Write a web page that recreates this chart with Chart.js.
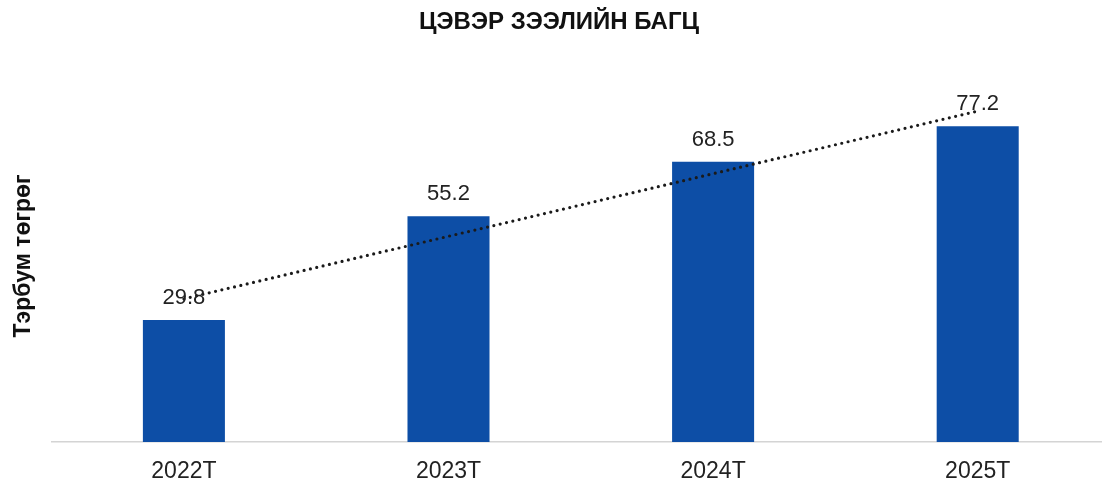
<!DOCTYPE html>
<html>
<head>
<meta charset="utf-8">
<script src="https://cdn.jsdelivr.net/npm/chart.js@4/dist/chart.umd.min.js"></script>
<style>
    html, body { margin: 0; padding: 0; background: #fff; overflow: hidden; }
    #wrap { width: 1110px; height: 481px; position: relative; }
</style>
</head>
<body>
<div id="wrap"><canvas id="loanChart"></canvas></div>
<script>
// data
const years = ["2022T", "2023T", "2024T", "2025T"];
const loanValues = [29.8, 55.2, 68.5, 77.2];
const trendValues = [35.0, null, null, 80.9]; // dotted trend line, only its ends

const FONT = "'Liberation Sans', Arial, sans-serif";

// value labels above bars
const valueLabels = {
    id: "valueLabels",
    afterDatasetsDraw(chart) {
        const ctx = chart.ctx;
        const meta = chart.getDatasetMeta(1); // the bar dataset
        ctx.save();
        ctx.font = "22px " + FONT;
        ctx.fillStyle = "#222";
        ctx.textAlign = "center";
        ctx.textBaseline = "alphabetic";
        meta.data.forEach((bar, i) => {
            ctx.fillText(loanValues[i].toFixed(1), bar.x, bar.y - 16);
        });
        ctx.restore();
    }
};

const ctx = document.getElementById("loanChart").getContext("2d");

new Chart(ctx, {
    data: {
        labels: years,
        datasets: [
            {
                type: "line",
                data: trendValues,
                spanGaps: true,
                borderColor: "#1a1a1a",
                borderWidth: 3.2,
                borderDash: [0, 6.5],
                borderCapStyle: "round",
                pointRadius: 0,
                fill: false,
                order: 0
            },
            {
                type: "bar",
                data: loanValues,
                backgroundColor: "#0d4ea6",
                barPercentage: 0.31,
                categoryPercentage: 1,
                order: 1
            }
        ]
    },
    options: {
        responsive: true,
        maintainAspectRatio: false,
        animation: false,
        layout: { padding: { left: 8, right: 0, top: 0, bottom: 0 } },
        plugins: {
            legend: { display: false },
            tooltip: { enabled: false },
            title: {
                display: true,
                text: "ЦЭВЭР ЗЭЭЛИЙН БАГЦ",
                color: "#111",
                font: { family: FONT, size: 24, weight: "bold" },
                padding: { top: 8, bottom: 33 }
            }
        },
        scales: {
            x: {
                grid: { display: false, drawTicks: false },
                border: { display: true, color: "#d4d4d4", width: 1.5 },
                ticks: {
                    color: "#222",
                    padding: 16,
                    font: { family: FONT, size: 23 }
                },
                afterFit(scale) { scale.height = 39; }
            },
            y: {
                min: 0,
                max: 91,
                grid: { display: false, drawTicks: false },
                border: { display: false },
                ticks: { display: false },
                title: {
                    display: true,
                    text: "Тэрбум төгрөг",
                    color: "#111",
                    font: { family: FONT, size: 23, weight: "bold" },
                    padding: { top: 2, bottom: 14 }
                }
            }
        }
    },
    plugins: [valueLabels]
});
</script>
</body>
</html>
